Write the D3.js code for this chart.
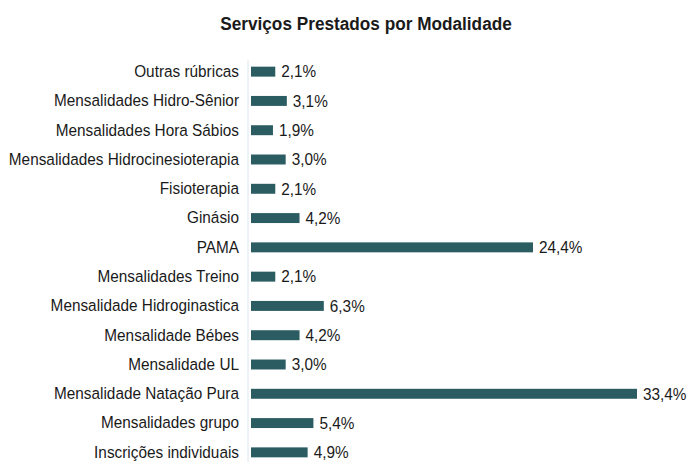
<!DOCTYPE html>
<html>
<head>
<meta charset="utf-8">
<script src="https://cdn.jsdelivr.net/npm/d3@7"></script>
<style>
  body { margin: 0; background: #fff; }
  svg text { font-family: "Liberation Sans", Arial, sans-serif; fill: #1a1a1a; }
</style>
</head>
<body>
<div id="chart"></div>
<script>
// Chart data
const categories = [
    "Outras rúbricas",
    "Mensalidades Hidro-Sênior",
    "Mensalidades Hora Sábios",
    "Mensalidades Hidrocinesioterapia",
    "Fisioterapia",
    "Ginásio",
    "PAMA",
    "Mensalidades Treino",
    "Mensalidade Hidroginastica",
    "Mensalidade Bébes",
    "Mensalidade UL",
    "Mensalidade Natação Pura",
    "Mensalidades grupo",
    "Inscrições individuais"
];
const values = [2.1, 3.1, 1.9, 3.0, 2.1, 4.2, 24.4, 2.1, 6.3, 4.2, 3.0, 33.4, 5.4, 4.9];
const title = "Serviços Prestados por Modalidade";

// Size of the drawing
const width = 694;
const height = 462;
const margin = { top: 57, right: 57, bottom: 0, left: 251 };

// The reference font is a bit condensed, so we squeeze the text horizontally
const squeeze = "scale(0.93,1)";

const svg = d3.select("#chart").append("svg")
    .attr("width", width)
    .attr("height", height);

// X scale for the percentages
const xScale = d3.scaleLinear()
    .domain([0, 33.4])
    .range([margin.left, 637]);

// Y scale for the categories
const yScale = d3.scaleBand()
    .domain(categories)
    .range([57, 467])
    .paddingInner(0.66)
    .paddingOuter(0.33);

// Title
svg.append("text")
    .attr("transform", `translate(366,30) ${squeeze}`)
    .attr("text-anchor", "middle")
    .attr("font-size", 18.5)
    .attr("font-weight", "bold")
    .text(title);

// Faint axis line
svg.append("line")
    .attr("x1", margin.left - 3)
    .attr("x2", margin.left - 3)
    .attr("y1", 60)
    .attr("y2", 462)
    .attr("stroke", "#dde6ee")
    .attr("stroke-width", 1);

// Bars
svg.selectAll(".bar")
    .data(values)
    .enter()
    .append("rect")
    .attr("class", "bar")
    .attr("x", xScale(0))
    .attr("y", (d, i) => yScale(categories[i]))
    .attr("width", d => xScale(d) - xScale(0))
    .attr("height", yScale.bandwidth())
    .attr("fill", "#2b5c62");

// Category labels using the axis
const axis = svg.append("g")
    .attr("transform", `translate(${margin.left - 12},0)`)
    .call(d3.axisLeft(yScale).tickSize(0).tickPadding(0));
axis.select(".domain").remove();
axis.selectAll("text")
    .attr("font-size", 16.5)
    .attr("font-family", null)
    .attr("fill", "#1a1a1a")
    .attr("transform", squeeze);

// Value labels
svg.selectAll(".value")
    .data(values)
    .enter()
    .append("text")
    .attr("class", "value")
    .attr("transform", (d, i) => `translate(${xScale(d) + 6},${yScale(categories[i]) + yScale.bandwidth() / 2}) ${squeeze}`)
    .attr("dy", "0.35em")
    .attr("font-size", 16.5)
    .text(d => d.toFixed(1).replace(".", ",") + "%");
</script>
</body>
</html>
